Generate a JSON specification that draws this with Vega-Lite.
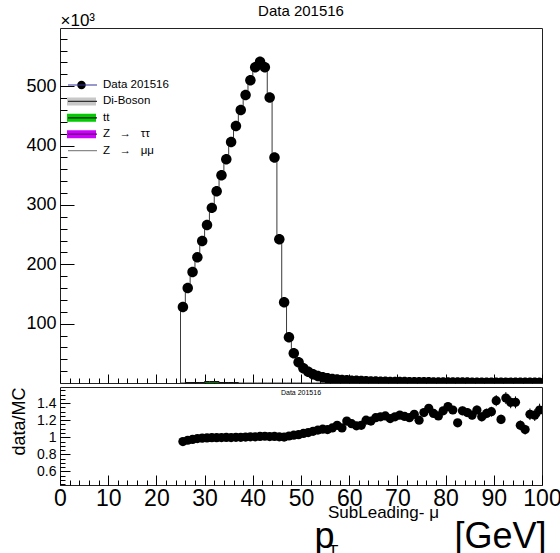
{
  "$schema": "https://vega.github.io/schema/vega-lite/v6.json",
  "padding": {"left": 9, "top": 3, "right": 0, "bottom": 0},
  "autosize": {"type": "pad"},
  "background": "white",
  "spacing": 2,
  "config": {
    "font": "Liberation Sans",
    "view": {"stroke": "#222", "strokeWidth": 1},
    "axis": {"grid": false, "domain": false, "tickColor": "#000", "tickWidth": 1, "labelColor": "#000", "titleColor": "#000", "labelFont": "Liberation Sans", "titleFont": "Liberation Sans", "titleFontWeight": "normal", "labelFlush": false, "labelOverlap": false, "labelBound": false},
    "legend": {"padding": 0},
    "title": {"font": "Liberation Sans", "fontWeight": "normal", "color": "#000"}
  },
  "datasets": {
    "bins": [
      {"lo": 25, "pt": 25.5, "n": 128, "mc": 134.7, "r": 0.95, "e": 0.004},
      {"lo": 26, "pt": 26.5, "n": 160, "mc": 165.8, "r": 0.965, "e": 0.004},
      {"lo": 27, "pt": 27.5, "n": 187, "mc": 191.8, "r": 0.975, "e": 0.004},
      {"lo": 28, "pt": 28.5, "n": 212, "mc": 215.2, "r": 0.985, "e": 0.004},
      {"lo": 29, "pt": 29.5, "n": 239, "mc": 241.4, "r": 0.99, "e": 0.004},
      {"lo": 30, "pt": 30.5, "n": 266, "mc": 267.9, "r": 0.993, "e": 0.004},
      {"lo": 31, "pt": 31.5, "n": 295, "mc": 296.2, "r": 0.996, "e": 0.004},
      {"lo": 32, "pt": 32.5, "n": 323, "mc": 324.6, "r": 0.995, "e": 0.004},
      {"lo": 33, "pt": 33.5, "n": 350, "mc": 351.1, "r": 0.997, "e": 0.004},
      {"lo": 34, "pt": 34.5, "n": 377, "mc": 377.8, "r": 0.998, "e": 0.004},
      {"lo": 35, "pt": 35.5, "n": 406, "mc": 407.2, "r": 0.997, "e": 0.004},
      {"lo": 36, "pt": 36.5, "n": 433, "mc": 433.0, "r": 1.0, "e": 0.004},
      {"lo": 37, "pt": 37.5, "n": 460, "mc": 460.0, "r": 1.0, "e": 0.004},
      {"lo": 38, "pt": 38.5, "n": 485, "mc": 483.5, "r": 1.003, "e": 0.004},
      {"lo": 39, "pt": 39.5, "n": 510, "mc": 507.5, "r": 1.005, "e": 0.004},
      {"lo": 40, "pt": 40.5, "n": 532, "mc": 529.4, "r": 1.005, "e": 0.004},
      {"lo": 41, "pt": 41.5, "n": 541, "mc": 535.6, "r": 1.01, "e": 0.004},
      {"lo": 42, "pt": 42.5, "n": 532, "mc": 525.7, "r": 1.012, "e": 0.004},
      {"lo": 43, "pt": 43.5, "n": 481, "mc": 477.2, "r": 1.008, "e": 0.004},
      {"lo": 44, "pt": 44.5, "n": 380, "mc": 376.2, "r": 1.01, "e": 0.004},
      {"lo": 45, "pt": 45.5, "n": 242, "mc": 240.8, "r": 1.005, "e": 0.004},
      {"lo": 46, "pt": 46.5, "n": 136, "mc": 135.6, "r": 1.003, "e": 0.004},
      {"lo": 47, "pt": 47.5, "n": 77, "mc": 75.9, "r": 1.015, "e": 0.005},
      {"lo": 48, "pt": 48.5, "n": 50, "mc": 48.8, "r": 1.025, "e": 0.005},
      {"lo": 49, "pt": 49.5, "n": 35, "mc": 34.0, "r": 1.03, "e": 0.006},
      {"lo": 50, "pt": 50.5, "n": 25, "mc": 23.9, "r": 1.045, "e": 0.007},
      {"lo": 51, "pt": 51.5, "n": 19, "mc": 18.0, "r": 1.055, "e": 0.008},
      {"lo": 52, "pt": 52.5, "n": 14.8, "mc": 13.83, "r": 1.07, "e": 0.009},
      {"lo": 53, "pt": 53.5, "n": 11.8, "mc": 10.88, "r": 1.085, "e": 0.01},
      {"lo": 54, "pt": 54.5, "n": 9.6, "mc": 8.77, "r": 1.095, "e": 0.011},
      {"lo": 55, "pt": 55.5, "n": 8.0, "mc": 7.34, "r": 1.09, "e": 0.012},
      {"lo": 56, "pt": 56.5, "n": 6.8, "mc": 6.13, "r": 1.11, "e": 0.013},
      {"lo": 57, "pt": 57.5, "n": 5.9, "mc": 5.18, "r": 1.14, "e": 0.015},
      {"lo": 58, "pt": 58.5, "n": 5.1, "mc": 4.59, "r": 1.11, "e": 0.016},
      {"lo": 59, "pt": 59.5, "n": 4.5, "mc": 3.78, "r": 1.19, "e": 0.018},
      {"lo": 60, "pt": 60.5, "n": 4.0, "mc": 3.45, "r": 1.16, "e": 0.018},
      {"lo": 61, "pt": 61.5, "n": 3.6, "mc": 3.17, "r": 1.135, "e": 0.019},
      {"lo": 62, "pt": 62.5, "n": 3.25, "mc": 2.85, "r": 1.14, "e": 0.02},
      {"lo": 63, "pt": 63.5, "n": 2.95, "mc": 2.46, "r": 1.2, "e": 0.022},
      {"lo": 64, "pt": 64.5, "n": 2.7, "mc": 2.27, "r": 1.19, "e": 0.023},
      {"lo": 65, "pt": 65.5, "n": 2.45, "mc": 1.99, "r": 1.23, "e": 0.025},
      {"lo": 66, "pt": 66.5, "n": 2.25, "mc": 1.81, "r": 1.24, "e": 0.026},
      {"lo": 67, "pt": 67.5, "n": 2.07, "mc": 1.66, "r": 1.25, "e": 0.028},
      {"lo": 68, "pt": 68.5, "n": 1.9, "mc": 1.56, "r": 1.22, "e": 0.028},
      {"lo": 69, "pt": 69.5, "n": 1.76, "mc": 1.42, "r": 1.24, "e": 0.03},
      {"lo": 70, "pt": 70.5, "n": 1.63, "mc": 1.29, "r": 1.26, "e": 0.031},
      {"lo": 71, "pt": 71.5, "n": 1.51, "mc": 1.21, "r": 1.245, "e": 0.032},
      {"lo": 72, "pt": 72.5, "n": 1.4, "mc": 1.14, "r": 1.23, "e": 0.033},
      {"lo": 73, "pt": 73.5, "n": 1.3, "mc": 1.02, "r": 1.27, "e": 0.035},
      {"lo": 74, "pt": 74.5, "n": 1.21, "mc": 1.01, "r": 1.2, "e": 0.035},
      {"lo": 75, "pt": 75.5, "n": 1.13, "mc": 0.88, "r": 1.29, "e": 0.038},
      {"lo": 76, "pt": 76.5, "n": 1.06, "mc": 0.79, "r": 1.34, "e": 0.041},
      {"lo": 77, "pt": 77.5, "n": 0.99, "mc": 0.77, "r": 1.28, "e": 0.041},
      {"lo": 78, "pt": 78.5, "n": 0.93, "mc": 0.74, "r": 1.25, "e": 0.041},
      {"lo": 79, "pt": 79.5, "n": 0.87, "mc": 0.66, "r": 1.31, "e": 0.044},
      {"lo": 80, "pt": 80.5, "n": 0.82, "mc": 0.60, "r": 1.36, "e": 0.047},
      {"lo": 81, "pt": 81.5, "n": 0.77, "mc": 0.58, "r": 1.32, "e": 0.048},
      {"lo": 82, "pt": 82.5, "n": 0.73, "mc": 0.62, "r": 1.17, "e": 0.043},
      {"lo": 83, "pt": 83.5, "n": 0.69, "mc": 0.53, "r": 1.31, "e": 0.05},
      {"lo": 84, "pt": 84.5, "n": 0.65, "mc": 0.50, "r": 1.29, "e": 0.051},
      {"lo": 85, "pt": 85.5, "n": 0.62, "mc": 0.49, "r": 1.26, "e": 0.051},
      {"lo": 86, "pt": 86.5, "n": 0.59, "mc": 0.45, "r": 1.32, "e": 0.054},
      {"lo": 87, "pt": 87.5, "n": 0.56, "mc": 0.45, "r": 1.24, "e": 0.052},
      {"lo": 88, "pt": 88.5, "n": 0.53, "mc": 0.41, "r": 1.28, "e": 0.056},
      {"lo": 89, "pt": 89.5, "n": 0.5, "mc": 0.38, "r": 1.3, "e": 0.058},
      {"lo": 90, "pt": 90.5, "n": 0.48, "mc": 0.34, "r": 1.43, "e": 0.065},
      {"lo": 91, "pt": 91.5, "n": 0.46, "mc": 0.38, "r": 1.21, "e": 0.056},
      {"lo": 92, "pt": 92.5, "n": 0.44, "mc": 0.30, "r": 1.46, "e": 0.07},
      {"lo": 93, "pt": 93.5, "n": 0.42, "mc": 0.30, "r": 1.41, "e": 0.069},
      {"lo": 94, "pt": 94.5, "n": 0.4, "mc": 0.28, "r": 1.41, "e": 0.07},
      {"lo": 95, "pt": 95.5, "n": 0.38, "mc": 0.33, "r": 1.14, "e": 0.058},
      {"lo": 96, "pt": 96.5, "n": 0.36, "mc": 0.33, "r": 1.09, "e": 0.057},
      {"lo": 97, "pt": 97.5, "n": 0.35, "mc": 0.28, "r": 1.27, "e": 0.068},
      {"lo": 98, "pt": 98.5, "n": 0.33, "mc": 0.26, "r": 1.26, "e": 0.069},
      {"lo": 99, "pt": 99.5, "n": 0.32, "mc": 0.24, "r": 1.32, "e": 0.074}
    ],
    "comp": [
      {"lo": 26, "v": 0.8},
      {"lo": 27, "v": 0.8},
      {"lo": 28, "v": 0.8},
      {"lo": 29, "v": 0.8},
      {"lo": 30, "v": 2.5},
      {"lo": 31, "v": 2.5},
      {"lo": 32, "v": 2.5},
      {"lo": 33, "v": 0.8},
      {"lo": 34, "v": 0.8},
      {"lo": 35, "v": 0.8},
      {"lo": 36, "v": 0.8},
      {"lo": 37, "v": 0}
    ]
  },
  "vconcat": [
    {
      "width": 482,
      "height": 355,
      "title": {"text": "Data 201516", "fontSize": 15, "offset": -8, "anchor": "middle"},
      "resolve": {"axis": {"x": "independent", "y": "independent"}},
      "layer": [
        {
          "data": {"name": "bins"},
          "mark": {"type": "area", "interpolate": "step-after", "fill": "transparent", "stroke": "#3a3a3a", "strokeWidth": 1, "opacity": 1, "clip": true},
          "encoding": {
            "x": {"field": "lo", "type": "quantitative", "scale": {"domain": [0, 100], "nice": false, "zero": false},
              "axis": {"orient": "bottom", "values": [0,10,20,30,40,50,60,70,80,90,100], "labels": false, "title": null, "tickSize": -9, "labelOverlap": false}},
            "y": {"field": "mc", "type": "quantitative", "stack": null, "scale": {"domain": [0, 598], "nice": false, "zero": true},
              "axis": {"orient": "left", "values": [100,200,300,400,500], "labelFontSize": 18, "labelPadding": 18, "tickSize": -14, "labelOverlap": false,
                "title": "×10³", "titleFontSize": 17, "titleAngle": 0, "titleX": 0, "titleY": -3, "titleAlign": "left", "titleBaseline": "alphabetic"}}
          }
        },
        {
          "data": {"name": "comp"},
          "mark": {"type": "area", "interpolate": "step-after", "opacity": 1, "strokeWidth": 1, "clip": true},
          "encoding": {
            "x": {"field": "lo", "type": "quantitative", "axis": null},
            "y": {"field": "v", "type": "quantitative", "stack": null, "axis": null},
            "fill": {"datum": "tt",
              "scale": {"domain": ["Data 201516", "Di-Boson", "tt", "Z\u00a0\u00a0\u00a0→\u00a0\u00a0\u00a0ττ", "Z\u00a0\u00a0\u00a0→\u00a0\u00a0\u00a0μμ"], "range": ["#000000", "#c8c8c8", "#00cc00", "#cc00ff", "transparent"]},
              "legend": {"orient": "none", "legendX": 7, "legendY": 51, "zindex": 1, "title": null, "symbolSize": 841, "symbolStrokeWidth": 0, "symbolOpacity": 1, "labelFontSize": 11.5, "labelFont": "Liberation Sans", "labelColor": "#000", "labelOffset": 7, "clipHeight": 12, "rowPadding": 4.4, "padding": 0, "labelLimit": 300}},
            "stroke": {"datum": "t",
              "scale": {"domain": ["d", "b", "t", "z", "m"], "range": ["#33339a", "#333333", "#111111", "#660066", "#8a8a8a"]},
              "legend": {"orient": "none", "legendX": 7, "legendY": 51, "zindex": 2, "title": null, "symbolType": "M-1,0H1", "symbolSize": 841, "symbolStrokeWidth": 1.2, "symbolFillColor": "transparent", "labelOpacity": 0, "labelFontSize": 11.5, "labelOffset": 7, "clipHeight": 12, "rowPadding": 4.4, "padding": 0}}
          }
        },
        {
          "data": {"name": "bins"},
          "mark": {"type": "point", "filled": true, "size": 1283, "opacity": 1, "strokeWidth": 0, "clip": true},
          "encoding": {
            "x": {"field": "pt", "type": "quantitative",
              "axis": {"orient": "bottom", "values": [2,4,6,8,12,14,16,18,22,24,26,28,32,34,36,38,42,44,46,48,52,54,56,58,62,64,66,68,72,74,76,78,82,84,86,88,92,94,96,98], "labels": false, "title": null, "tickSize": -5}},
            "y": {"field": "n", "type": "quantitative",
              "axis": {"orient": "left", "values": [20,40,60,80,120,140,160,180,220,240,260,280,320,340,360,380,420,440,460,480,520,540,560,580], "labels": false, "title": null, "tickSize": -7}},
            "fill": {"datum": "Data 201516",
              "scale": {"domain": ["Data 201516", "Di-Boson", "tt", "Z\u00a0\u00a0\u00a0→\u00a0\u00a0\u00a0ττ", "Z\u00a0\u00a0\u00a0→\u00a0\u00a0\u00a0μμ"], "range": ["#000000", "#c8c8c8", "#00cc00", "#cc00ff", "transparent"]},
              "legend": {"orient": "none", "legendX": 7, "legendY": 51, "zindex": 1, "title": null, "symbolSize": 841, "symbolStrokeWidth": 0, "symbolOpacity": 1, "labelFontSize": 11.5, "labelFont": "Liberation Sans", "labelColor": "#000", "labelOffset": 7, "clipHeight": 12, "rowPadding": 4.4, "padding": 0, "labelLimit": 300}},
            "shape": {"datum": "Data 201516",
              "scale": {"domain": ["Data 201516", "Di-Boson", "tt", "Z\u00a0\u00a0\u00a0→\u00a0\u00a0\u00a0ττ", "Z\u00a0\u00a0\u00a0→\u00a0\u00a0\u00a0μμ"], "range": ["M0.293,0A0.293,0.293,0,1,1,-0.293,0A0.293,0.293,0,1,1,0.293,0Z", "M-1,-0.276H1V0.276H-1Z", "M-1,-0.276H1V0.276H-1Z", "M-1,-0.276H1V0.276H-1Z", "M-1,-0.276H1V0.276H-1Z"]},
              "legend": {"orient": "none", "legendX": 7, "legendY": 51, "zindex": 1, "title": null, "symbolSize": 841, "symbolStrokeWidth": 0, "symbolOpacity": 1, "labelFontSize": 11.5, "labelFont": "Liberation Sans", "labelColor": "#000", "labelOffset": 7, "clipHeight": 12, "rowPadding": 4.4, "padding": 0, "labelLimit": 300}}
          }
        }
      ]
    },
    {
      "width": 482,
      "height": 98,
      "title": {"text": "SubLeading- μ", "subtitle": "T", "orient": "bottom", "anchor": "start", "frame": "group", "fontSize": 17, "subtitleFontSize": 17, "subtitleFont": "Liberation Sans", "subtitleColor": "#000", "offset": -49, "dx": 268, "subtitlePadding": 22},
      "resolve": {"axis": {"x": "independent", "y": "independent"}},
      "layer": [
        {
          "data": {"name": "bins"},
          "mark": {"type": "errorbar", "ticks": false, "color": "#000", "thickness": 1},
          "encoding": {
            "x": {"field": "pt", "type": "quantitative",
              "axis": {"orient": "bottom", "values": [2,4,6,8,12,14,16,18,22,24,26,28,32,34,36,38,42,44,46,48,52,54,56,58,62,64,66,68,72,74,76,78,82,84,86,88,92,94,96,98], "labels": false, "title": null, "tickSize": -5}},
            "y": {"field": "r", "type": "quantitative",
              "axis": {"orient": "left", "values": [0.45,0.5,0.55,0.65,0.7,0.75,0.85,0.9,0.95,1.05,1.1,1.15,1.25,1.3,1.35,1.45,1.5,1.55], "labels": false, "title": null, "tickSize": -5}},
            "yError": {"field": "e"}
          }
        },
        {
          "data": {"name": "bins"},
          "mark": {"type": "point", "shape": "circle", "filled": true, "size": 85, "color": "#000", "opacity": 1, "clip": true},
          "encoding": {
            "x": {"field": "pt", "type": "quantitative", "scale": {"domain": [0, 100], "nice": false, "zero": false},
              "axis": {"orient": "bottom", "values": [0,10,20,30,40,50,60,70,80,90,100], "labelFontSize": 23, "labelPadding": 12, "tickSize": -10, "labelOverlap": false,
                "title": "p\u00a0\u00a0\u00a0\u00a0\u00a0\u00a0\u00a0\u00a0\u00a0\u00a0\u00a0\u00a0[GeV]", "titleFontSize": 36, "titleX": 486, "titleY": 62, "titleAlign": "right", "titleBaseline": "alphabetic", "titleAngle": 0}},
            "y": {"field": "r", "type": "quantitative", "scale": {"domain": [0.44, 1.59], "nice": false, "zero": false},
              "axis": {"orient": "left", "values": [0.6,0.8,1,1.2,1.4], "format": "~g", "labelFontSize": 14, "labelPadding": 14, "tickSize": -10, "labelOverlap": false,
                "title": "data/MC", "titleFontSize": 18, "titleAngle": -90, "titleX": -36, "titleY": 34, "titleAlign": "center", "titleBaseline": "alphabetic"}}
          }
        },
        {
          "data": {"values": [{}]},
          "mark": {"type": "text", "text": "Data 201516", "fontSize": 7, "font": "Liberation Sans", "color": "#000"},
          "encoding": {
            "x": {"datum": 50, "type": "quantitative", "axis": null},
            "y": {"datum": 1.525, "type": "quantitative", "axis": null}
          }
        }
      ]
    }
  ]
}
